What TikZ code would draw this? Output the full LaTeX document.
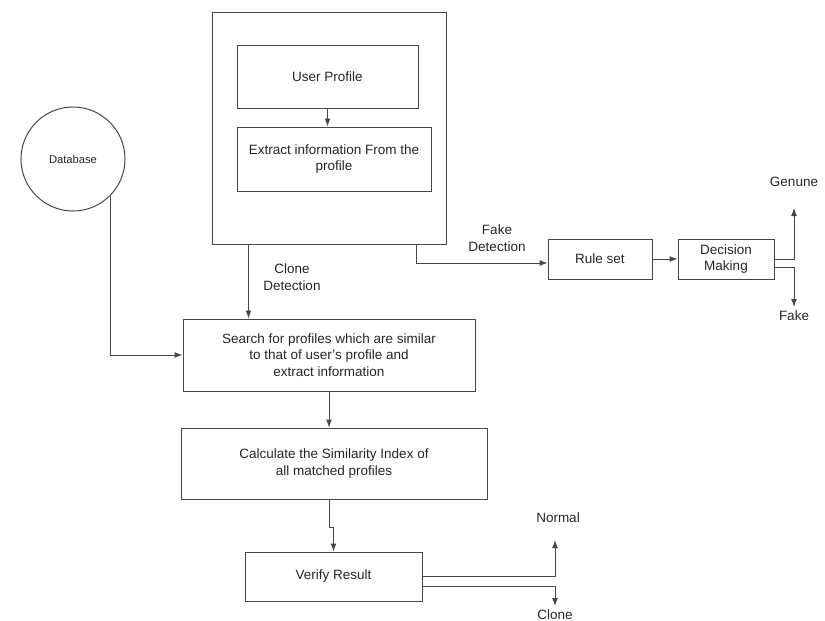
\documentclass[tikz,border=0pt]{standalone}
\usepackage{fontspec}
\setmainfont{Liberation Sans}
\usetikzlibrary{arrows.meta}
\begin{document}
\begin{tikzpicture}[x=1pt,y=-1pt,
    line width=1pt, draw=black!72, text=black!85,
    font=\fontsize{13.5}{16.5}\selectfont,
    box/.style={draw, rectangle, inner sep=0pt, align=center},
    arr/.style={-{Latex[length=8pt,width=6pt]}},
    lbl/.style={inner sep=0pt, align=center}]
  \useasboundingbox (0,0) rectangle (825,621);
  \clip (0,0) rectangle (825,621);
  % profile part
  \node[box, minimum width=234, minimum height=232] (outer) at (329,128) {};
  \node[box, minimum width=181, minimum height=63] (user) at (327.5,76.5) {User Profile};
  \node[box, minimum width=194, minimum height=64] (extract) at (334,159)
    {Extract information From the\\profile};
  \node[draw, circle, minimum size=104, inner sep=0pt, font=\fontsize{11.2}{13}\selectfont] (db) at (73,159) {Database};
  % clone branch
  \node[box, minimum width=292, minimum height=72] (search) at (329,355)
    {Search for profiles which are similar\\to that of user's profile and\\extract information};
  \node[box, minimum width=306, minimum height=71] (calc) at (334,463.5)
    {Calculate the Similarity Index of\\all matched profiles};
  \node[box, minimum width=177, minimum height=49] (verify) at (333.5,576.5) {Verify Result};
  % fake branch
  \node[box, minimum width=104, minimum height=40] (rule) at (600,259) {Rule set};
  \node[box, minimum width=96, minimum height=40] (decision) at (726,259) {Decision\\Making};
  % free ends
  \coordinate (gtip) at (794,208);
  \coordinate (ftip) at (794,307);
  \coordinate (ntip) at (555,540);
  \coordinate (ctip) at (555,606);
  % labels
  \node[lbl] (clonedet) at (292,277) {Clone\\Detection};
  \node[lbl] (fakedet) at (497,238) {Fake\\Detection};
  \node[lbl] (genune) at (794,182) {Genune};
  \node[lbl] (fake) at (794,316) {Fake};
  \node[lbl] (normal) at (558,518) {Normal};
  \node[lbl, anchor=south] (clone) at (555,620) {Clone};
  % connectors
  \draw[arr] (user.south) -- (user.south |- extract.north);
  \draw[arr] ([xshift=37pt]outer.south west) -- ([xshift=37pt]outer.south west |- search.north);
  \draw[arr] ([xshift=-30pt]outer.south east) |- ([yshift=-4pt]rule.west);
  \draw[arr] (rule.east) -- (decision.west);
  \draw[arr] (decision.east) -| (gtip);
  \draw[arr] ([yshift=-8pt]decision.east) -| (ftip);
  \draw[arr] (db.-45) |- (search.west);
  \draw[arr] (search.south) -- (search.south |- calc.north);
  \draw[arr] (calc.south -| search.south) -- ++(0,28) -| (verify.north);
  \draw[arr] (verify.east) -| (ntip);
  \draw[arr] ([yshift=-10pt]verify.east) -| (ctip);
\end{tikzpicture}
\end{document}
